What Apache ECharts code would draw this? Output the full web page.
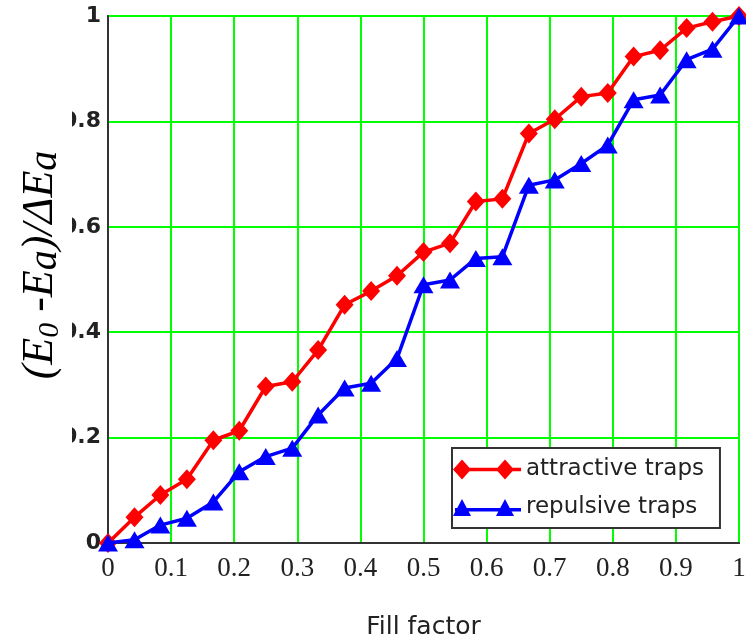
<!DOCTYPE html>
<html>
<head>
<meta charset="utf-8">
<script src="https://cdn.jsdelivr.net/npm/echarts@6/dist/echarts.min.js"></script>
<style>
html,body{margin:0;padding:0;background:#fff;}
#chart{width:746px;height:639px;}
</style>
</head>
<body>
<div id="chart"></div>
<script>
// ---- data ----
var fillFactor = [0, 0.042, 0.083, 0.125, 0.167, 0.208, 0.25, 0.292, 0.333, 0.375, 0.417, 0.458, 0.5,
                  0.542, 0.583, 0.625, 0.667, 0.708, 0.75, 0.792, 0.833, 0.875, 0.917, 0.958, 1];
var attractive = [0, 0.049, 0.091, 0.121, 0.195, 0.213, 0.297, 0.306, 0.366, 0.452, 0.478, 0.507, 0.552,
                  0.569, 0.648, 0.653, 0.777, 0.804, 0.847, 0.854, 0.923, 0.935, 0.977, 0.989, 1.0];
var repulsive  = [0, 0.006, 0.034, 0.047, 0.078, 0.135, 0.164, 0.18, 0.243, 0.294, 0.303, 0.35, 0.49,
                  0.499, 0.54, 0.543, 0.679, 0.689, 0.72, 0.755, 0.841, 0.85, 0.917, 0.937, 1.0];
var seriesNames = ['attractive traps', 'repulsive traps'];
var xTickLabels = ['0', '0.1', '0.2', '0.3', '0.4', '0.5', '0.6', '0.7', '0.8', '0.9', '1'];
var yTickLabels = ['0', '0.2', '0.4', '0.6', '0.8', '1'];
var xTitle = 'Fill factor';

function pairs(xs, ys) { return xs.map(function (x, i) { return [x, ys[i]]; }); }

var chart = echarts.init(document.getElementById('chart'), null, { renderer: 'canvas' });
var option = {
  animation: false,
  backgroundColor: '#fff',
  grid: {
    left: 108, right: 7, top: 16, bottom: 96,
    outerBoundsMode: 'none', containLabel: false,
    show: true, borderColor: '#555', borderWidth: 2, backgroundColor: 'transparent'
  },
  xAxis: {
    type: 'value', min: 0, max: 1, interval: 0.1,
    axisLine: { show: true, onZero: false, lineStyle: { color: '#333', width: 2 } },
    axisTick: { show: false },
    splitLine: { show: true, lineStyle: { color: '#00ff00', width: 2 } },
    axisLabel: {
      margin: 12, color: '#222', fontFamily: 'Liberation Serif', fontSize: 27,
      formatter: function (v) { return xTickLabels[Math.round(v * 10)]; }
    },
    name: xTitle, nameLocation: 'middle', nameGap: 72,
    nameTextStyle: { fontFamily: 'DejaVu Sans', fontSize: 25, color: '#222' }
  },
  yAxis: {
    type: 'value', min: 0, max: 1, interval: 0.2,
    axisLine: { show: true, onZero: false, lineStyle: { color: '#333', width: 2 } },
    axisTick: { show: false },
    splitLine: { show: true, lineStyle: { color: '#00ff00', width: 2 } },
    axisLabel: {
      margin: 7, color: '#222', fontFamily: 'DejaVu Sans', fontWeight: 'bold', fontSize: 22,
      padding: [5, 0, 0, 0],
      formatter: function (v) { return yTickLabels[Math.round(v * 5)]; }
    }
  },
  legend: {
    orient: 'vertical', left: 452, top: 448,
    itemWidth: 68, itemHeight: 20, itemGap: 15,
    padding: [10, 16, 9, 1],
    backgroundColor: '#fff', borderColor: '#333', borderWidth: 2, borderRadius: 0,
    textStyle: { fontFamily: 'DejaVu Sans', fontSize: 23, color: '#222' },
    data: [
      { name: seriesNames[0], icon: 'path://M2,8.2L68,8.2L68,11.8L2,11.8Z M9,0L18,10L9,20L0,10Z M52,0L61,10L52,20L43,10Z' },
      { name: seriesNames[1], icon: 'path://M2,9L68,9L68,12.6L2,12.6Z M9,0L18,17L0,17Z M52,0L61,17L43,17Z' }
    ]
  },
  graphic: [
    { type: 'rect', z: 100, shape: { x: 0, y: 95, width: 72, height: 380 }, style: { fill: '#fff' } },
    {
      type: 'text', z: 101, x: 40, y: 265, rotation: Math.PI / 2,
      style: {
        text: '{m|(E}{s|0}{m| -E}{a|a}{m|)/ΔE}{a|a}',
        align: 'center', verticalAlign: 'middle',
        fill: '#000',
        rich: {
          m: { fontFamily: 'Liberation Serif', fontStyle: 'italic', fontSize: 44, lineHeight: 50, fill: '#000' },
          s: { fontFamily: 'Liberation Serif', fontStyle: 'italic', fontSize: 30, lineHeight: 42, verticalAlign: 'bottom', fill: '#000' },
          a: { fontFamily: 'Liberation Serif', fontStyle: 'italic', fontSize: 40, lineHeight: 48, verticalAlign: 'bottom', fill: '#000' }
        }
      }
    }
  ],
  series: [
    {
      name: seriesNames[0], type: 'line', data: pairs(fillFactor, attractive),
      symbol: 'diamond', symbolSize: [18, 20],
      lineStyle: { color: '#ff0000', width: 3.5 },
      itemStyle: { color: '#ff0000' }, z: 3
    },
    {
      name: seriesNames[1], type: 'line', data: pairs(fillFactor, repulsive),
      symbol: 'triangle', symbolSize: [20, 17],
      lineStyle: { color: '#0000ff', width: 3.5 },
      itemStyle: { color: '#0000ff' }, z: 4
    }
  ]
};
chart.setOption(option);
</script>
</body>
</html>
